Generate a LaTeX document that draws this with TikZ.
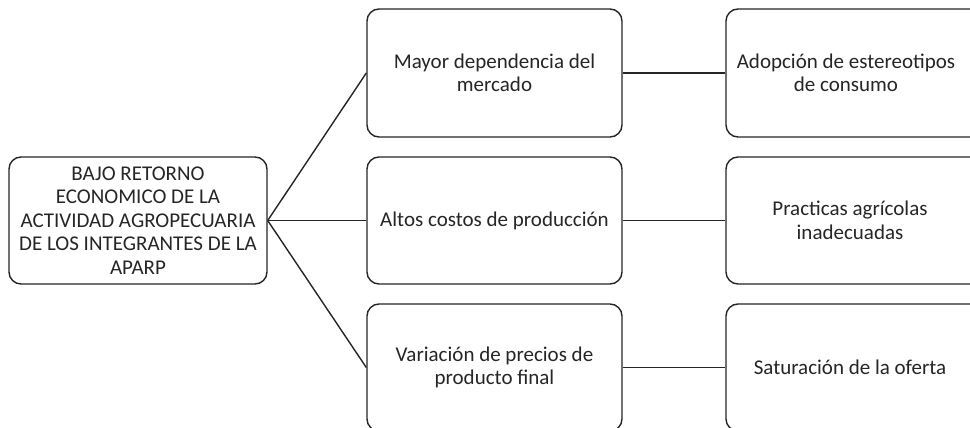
\documentclass[tikz,border=0pt]{standalone}
\usepackage{fontspec}
\setmainfont{Carlito}
\begin{document}
\begin{tikzpicture}[x=1pt,y=-1pt,
  box/.style={draw=black!85, line width=1.4pt, rounded corners=12pt, fill=white,
    align=center, inner sep=0pt, text=black!85,
    font=\fontsize{21}{23.5}\selectfont},
  conn/.style={draw=black!85, line width=1.4pt}]
\clip (0,0) rectangle (970,428);
\fill[white] (0,0) rectangle (970,428);
\node[box, minimum width=258pt, minimum height=127pt] (root) at (138,220.5)
  {BAJO RETORNO\\ECONOMICO DE LA\\ACTIVIDAD AGROPECUARIA\\DE LOS INTEGRANTES DE LA\\APARP};
\node[box, minimum width=255pt, minimum height=128pt] (m1) at (494.5,73) {Mayor dependencia del\\mercado};
\node[box, minimum width=255pt, minimum height=127pt] (m2) at (494.5,220.5) {Altos costos de producción};
\node[box, minimum width=255pt, minimum height=127pt] (m3) at (494.5,367.5) {Variación de precios de\\producto final};
\node[box, minimum width=258pt, minimum height=128pt] (r1) at (855,73) {};
\node[box, minimum width=258pt, minimum height=127pt] (r2) at (855,220.5) {};
\node[box, minimum width=258pt, minimum height=127pt] (r3) at (855,367.5) {};
\node[font=\fontsize{21}{23.5}\selectfont, text=black!85, align=center] (t1) at (846,73) {Adopción de estereotipos\\de consumo};
\node[font=\fontsize{21}{23.5}\selectfont, text=black!85, align=center] (t2) at (850,220.5) {Practicas agrícolas\\inadecuadas};
\node[font=\fontsize{21}{23.5}\selectfont, text=black!85, align=center] (t3) at (850,367.5) {Saturación de la oferta};
\draw[conn] (root.east) -- (m1.west);
\draw[conn] (root.east) -- (m2.west);
\draw[conn] (root.east) -- (m3.west);
\draw[conn] (m1.east) -- (r1.west);
\draw[conn] (m2.east) -- (r2.west);
\draw[conn] (m3.east) -- (r3.west);
\end{tikzpicture}
\end{document}
